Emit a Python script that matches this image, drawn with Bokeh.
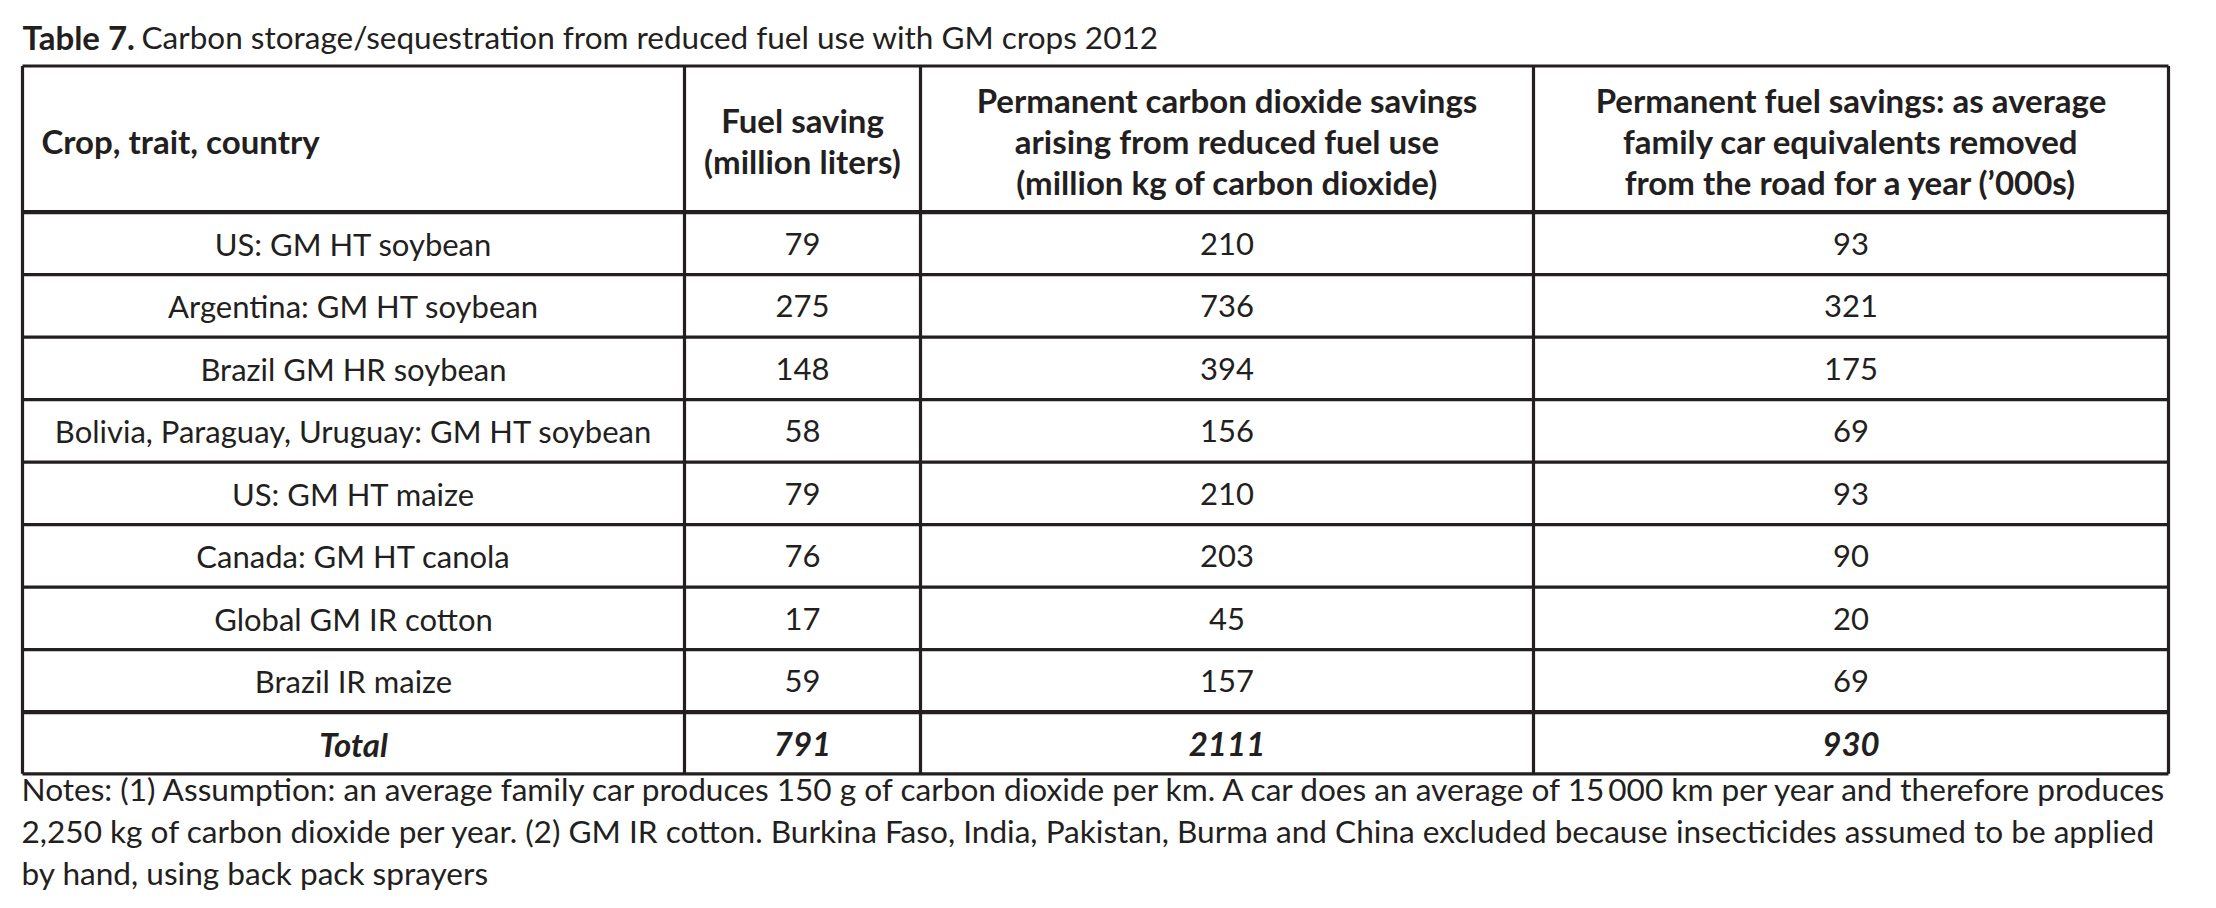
from bokeh.plotting import figure
from bokeh.models import Range1d, ColumnDataSource
from bokeh.core.properties import value
from bokeh.embed import file_html
from bokeh.resources import INLINE

# ---------------- data ----------------
title_bold = "Table 7."
title_rest = "Carbon storage/sequestration from reduced fuel use with GM crops 2012"

header_col1 = ["Crop, trait, country"]
header_col2 = ["Fuel saving", "(million liters)"]
header_col3 = ["Permanent carbon dioxide savings", "arising from reduced fuel use",
               "(million kg of carbon dioxide)"]
header_col4 = ["Permanent fuel savings: as average", "family car equivalents removed",
               "from the road for a year (\u2019000s)"]

crops = ["US: GM HT soybean", "Argentina: GM HT soybean", "Brazil GM HR soybean",
         "Bolivia, Paraguay, Uruguay: GM HT soybean", "US: GM HT maize",
         "Canada: GM HT canola", "Global GM IR cotton", "Brazil IR maize"]
fuel_saving = [79, 275, 148, 58, 79, 76, 17, 59]
co2_savings = [210, 736, 394, 156, 210, 203, 45, 157]
car_equivalents = [93, 321, 175, 69, 93, 90, 20, 69]
total_label = "Total"
totals = [791, 2111, 930]

notes = [
    "Notes: (1) Assumption: an average family car produces 150 g of carbon dioxide per km. A car does an average of 15\u2009000 km per year and therefore produces",
    "2,250 kg of carbon dioxide per year. (2) GM IR cotton. Burkina Faso, India, Pakistan, Burma and China excluded because insecticides assumed to be applied",
    "by hand, using back pack sprayers",
]

# ---------------- layout ----------------
W, H = 2214, 906
INK = "#231f20"
FONT = "Lato"
DY = -10.5  # baseline correction

col_edges = [22, 684, 920, 1533, 2168]
col_centers = [(col_edges[i] + col_edges[i + 1]) / 2 for i in range(4)]
top = 65.5
header_bottom = 211.7
row_h = 62.5
n_rows = len(crops)
row_tops = [header_bottom + i * row_h for i in range(n_rows + 1)]
total_top = row_tops[-1]
bottom = 773.3

p = figure(width=W, height=H, output_backend="svg", toolbar_location=None,
           x_range=Range1d(0, W), y_range=Range1d(H, 0),
           min_border=0, outline_line_color=None, background_fill_color="white",
           border_fill_color="white")
p.axis.visible = False
p.grid.visible = False

# lines
p.segment(x0=[col_edges[0]] * 2, y0=[top, bottom], x1=[col_edges[-1]] * 2, y1=[top, bottom],
          line_color=INK, line_width=3.2)
thick = [header_bottom, total_top]
p.segment(x0=[col_edges[0]] * 2, y0=thick, x1=[col_edges[-1]] * 2, y1=thick,
          line_color=INK, line_width=4.2)
inner = row_tops[1:-1]
p.segment(x0=[col_edges[0]] * len(inner), y0=inner, x1=[col_edges[-1]] * len(inner),
          y1=inner, line_color=INK, line_width=3.2)
p.segment(x0=col_edges, y0=[top] * 5, x1=col_edges, y1=[bottom] * 5,
          line_color=INK, line_width=3.2)


def common(size):
    return dict(text_font=value(FONT), text_font_size=value(size), text_color=INK,
                text_baseline="alphabetic")


# title
p.text(x=[22], y=[46.5 + DY], text=[title_bold], text_align="left",
       text_font_style="bold", **common("33px"))
p.text(x=[141], y=[46.5 + DY], text=[title_rest], text_align="left", **common("31.5px"))

# headers
p.text(x=[41], y=[150.5 + DY], text=header_col1, text_align="left",
       text_font_style="bold", **common("33px"))
for col, lines, bases in [(1, header_col2, [130, 171]),
                          (2, header_col3, [109.5, 150.5, 191.5]),
                          (3, header_col4, [109.5, 150.5, 191.5])]:
    p.text(x=[col_centers[col]] * len(lines), y=[b + DY for b in bases], text=lines,
           text_align="center", text_font_style="bold", **common("33px"))

# body
row_base = [row_tops[i] + row_h / 2 + 11 + DY for i in range(n_rows)]
src = ColumnDataSource(dict(
    y=row_base, crop=crops,
    fuel=[str(v) for v in fuel_saving],
    co2=[str(v) for v in co2_savings],
    cars=[str(v) for v in car_equivalents]))
for col, field in enumerate(["crop", "fuel", "co2", "cars"]):
    p.text(x=col_centers[col], y="y", text=field, source=src, text_align="center",
           **common("31px"))

# total row
ty = (total_top + bottom) / 2 + 11 + DY
p.text(x=col_centers, y=[ty] * 4, text=[total_label] + [str(v) for v in totals],
       text_align="center", text_font_style="bold italic", **common("33px"))

# notes
p.text(x=[21] * 3, y=[b + DY for b in [799, 841, 883]], text=notes, text_align="left",
       **common("31.6px"))

open("out.html", "w").write(file_html(p, INLINE))
